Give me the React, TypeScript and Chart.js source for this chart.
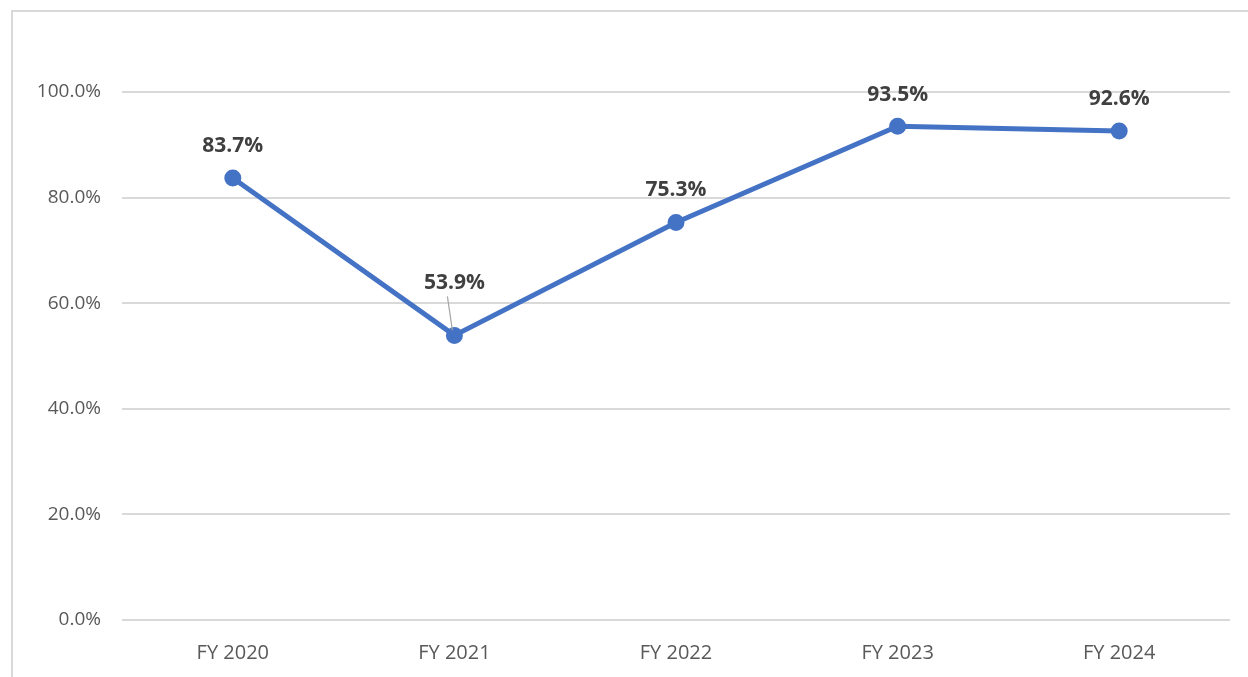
import React, { useEffect, useRef } from "react";
import { Chart, registerables } from "chart.js";

Chart.register(...registerables);

const categories = ["FY 2020", "FY 2021", "FY 2022", "FY 2023", "FY 2024"];
const values = [83.7, 53.9, 75.3, 93.5, 92.6];
const labelOffsets = [32, 52, 32, 31, 32];
const leaderLines = [false, true, false, false, false];

const FONT = "'Open Sans', 'Noto Sans', sans-serif";

const labelPlugin = {
  id: "dataLabels",
  afterDatasetsDraw(chart: any) {
    const ctx = chart.ctx;
    const meta = chart.getDatasetMeta(0);
    ctx.save();
    meta.data.forEach((pt: any, i: number) => {
      const x = pt.x;
      const y = pt.y;
      const off = labelOffsets[i];
      const ly = y - off;
      if (leaderLines[i]) {
        ctx.strokeStyle = "#a6a6a6";
        ctx.lineWidth = 1.2;
        ctx.beginPath();
        ctx.moveTo(x - 7, ly + 13);
        ctx.lineTo(x - 2, y - 5);
        ctx.stroke();
      }
      ctx.font = "bold 21px " + FONT;
      ctx.fillStyle = "#404040";
      ctx.textAlign = "center";
      ctx.textBaseline = "middle";
      ctx.fillText(values[i].toFixed(1) + "%", x, ly);
    });
    ctx.restore();
  },
};

export default function App() {
  const ref = useRef<HTMLCanvasElement | null>(null);
  useEffect(() => {
    if (!ref.current) return;
    const chart = new Chart(ref.current, {
      type: "line",
      data: {
        labels: categories,
        datasets: [
          {
            data: values,
            borderColor: "#4472C4",
            backgroundColor: "#4472C4",
            borderWidth: 5,
            pointRadius: 6,
            pointHoverRadius: 6,
            pointBackgroundColor: "#4472C4",
            pointBorderColor: "#4472C4",
            tension: 0,
          },
        ],
      },
      options: {
        animation: false,
        responsive: false,
        maintainAspectRatio: false,
        layout: { padding: { top: 92, right: 18, left: 0, bottom: 0 } },
        plugins: { legend: { display: false }, tooltip: { enabled: false } },
        scales: {
          x: {
            offset: true,
            grid: { display: false, drawTicks: false },
            border: { display: false },
            ticks: {
              padding: 21,
              color: "#595959",
              font: { size: 20, family: FONT },
            },
            afterFit(scale: any) {
              scale.height = 57;
            },
          },
          y: {
            min: 0,
            max: 100,
            grid: { color: "#d9d9d9", lineWidth: 2, drawTicks: false },
            border: { display: false },
            ticks: {
              stepSize: 20,
              padding: 21,
              color: "#595959",
              font: { size: 19, family: FONT },
              callback: (v: any) => Number(v).toFixed(1) + "%",
            },
            afterFit(scale: any) {
              scale.width = 122;
            },
          },
        },
      },
      plugins: [labelPlugin],
    });
    return () => chart.destroy();
  }, []);

  return (
    <div style={{ position: "fixed", left: 0, top: 0, width: 1248, height: 677, background: "#fff", overflow: "hidden" }}>
      <div
        style={{
          position: "absolute",
          left: 11,
          top: 10,
          width: 1260,
          height: 700,
          borderLeft: "2px solid #d9d9d9",
          borderTop: "2px solid #d9d9d9",
          boxSizing: "border-box",
        }}
      />
      <canvas ref={ref} width={1248} height={677} style={{ position: "absolute", left: 0, top: 0 }} />
    </div>
  );
}
